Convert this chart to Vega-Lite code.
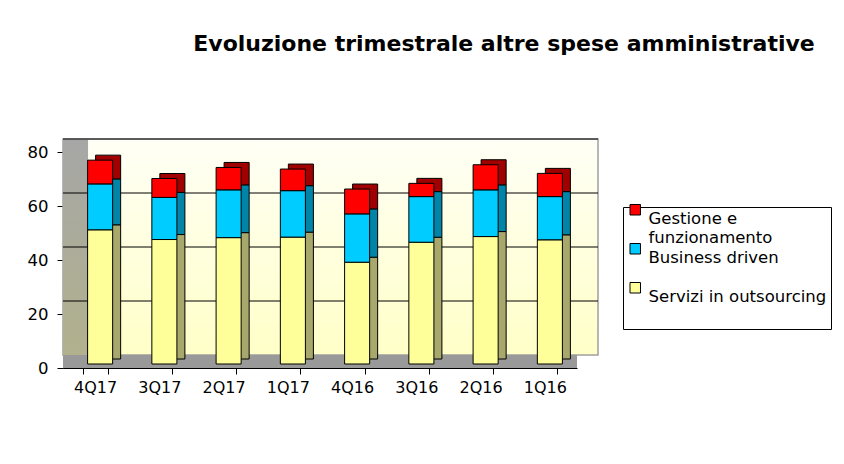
{
  "$schema": "https://vega.github.io/schema/vega-lite/v6.json",
  "width": 514,
  "height": 216,
  "autosize": {"type": "none"},
  "padding": {"left": 63, "top": 152, "right": 267, "bottom": 96},
  "background": "white",
  "config": {"view": {"stroke": null}, "font": "DejaVu Sans", "style": {"guide-label": {"lineHeight": 19}}},
  "title": {
    "text": "Evoluzione trimestrale altre spese amministrative",
    "font": "DejaVu Sans",
    "fontSize": 22,
    "fontWeight": "bold",
    "color": "black",
    "anchor": "middle",
    "frame": "group",
    "dx": 184,
    "offset": 82
  },
  "datasets": {
    "spese": [
      {"trimestre": "4Q17", "voce": "Servizi in outsourcing", "ord": 1, "valore": 49.7},
      {"trimestre": "4Q17", "voce": "Business driven", "ord": 2, "valore": 17.0},
      {"trimestre": "4Q17", "voce": "Gestione e funzionamento", "ord": 3, "valore": 8.8},
      {"trimestre": "3Q17", "voce": "Servizi in outsourcing", "ord": 1, "valore": 46.1},
      {"trimestre": "3Q17", "voce": "Business driven", "ord": 2, "valore": 15.6},
      {"trimestre": "3Q17", "voce": "Gestione e funzionamento", "ord": 3, "valore": 7.0},
      {"trimestre": "2Q17", "voce": "Servizi in outsourcing", "ord": 1, "valore": 46.8},
      {"trimestre": "2Q17", "voce": "Business driven", "ord": 2, "valore": 17.7},
      {"trimestre": "2Q17", "voce": "Gestione e funzionamento", "ord": 3, "valore": 8.3},
      {"trimestre": "1Q17", "voce": "Servizi in outsourcing", "ord": 1, "valore": 47.0},
      {"trimestre": "1Q17", "voce": "Business driven", "ord": 2, "valore": 17.2},
      {"trimestre": "1Q17", "voce": "Gestione e funzionamento", "ord": 3, "valore": 8.0},
      {"trimestre": "4Q16", "voce": "Servizi in outsourcing", "ord": 1, "valore": 37.7},
      {"trimestre": "4Q16", "voce": "Business driven", "ord": 2, "valore": 17.9},
      {"trimestre": "4Q16", "voce": "Gestione e funzionamento", "ord": 3, "valore": 9.2},
      {"trimestre": "3Q16", "voce": "Servizi in outsourcing", "ord": 1, "valore": 45.1},
      {"trimestre": "3Q16", "voce": "Business driven", "ord": 2, "valore": 16.9},
      {"trimestre": "3Q16", "voce": "Gestione e funzionamento", "ord": 3, "valore": 4.9},
      {"trimestre": "2Q16", "voce": "Servizi in outsourcing", "ord": 1, "valore": 47.2},
      {"trimestre": "2Q16", "voce": "Business driven", "ord": 2, "valore": 17.3},
      {"trimestre": "2Q16", "voce": "Gestione e funzionamento", "ord": 3, "valore": 9.3},
      {"trimestre": "1Q16", "voce": "Servizi in outsourcing", "ord": 1, "valore": 46.0},
      {"trimestre": "1Q16", "voce": "Business driven", "ord": 2, "valore": 16.0},
      {"trimestre": "1Q16", "voce": "Gestione e funzionamento", "ord": 3, "valore": 8.6}
    ],
    "parete": [{"trimestre": "4Q17", "lo": 0, "hi": 80}],
    "griglia": [{"v": 20}, {"v": 40}, {"v": 60}, {"v": 80}]
  },
  "layer": [
    {
      "data": {"name": "parete"},
      "mark": {
        "type": "rect",
        "color": {"gradient": "linear", "x1": 0, "y1": 0, "x2": 0, "y2": 1,
          "stops": [{"offset": 0, "color": "#FFFFF6"}, {"offset": 1, "color": "#FFFFC8"}]},
        "stroke": "#A0A0A0",
        "strokeWidth": 1.5,
        "yOffset": -13, "y2Offset": -13, "xOffset": 21
      },
      "encoding": {
        "y": {"field": "lo", "type": "quantitative", "title": null,
          "scale": {"domain": [0, 80], "nice": false},
          "axis": {"values": [0, 20, 40, 60, 80], "grid": false, "labelFont": "DejaVu Sans", "labelFontSize": 16.5,
            "labelColor": "black", "domainColor": "black", "tickColor": "black", "tickSize": 6, "labelPadding": 9}},
        "y2": {"field": "hi"}
      }
    },
    {
      "data": {"name": "parete"},
      "mark": {
        "type": "bar",
        "color": {"gradient": "linear", "x1": 0, "y1": 0, "x2": 0, "y2": 1,
          "stops": [{"offset": 0, "color": "#A6A6A6"}, {"offset": 1, "color": "#B2B28C"}]},
        "yOffset": -13, "y2Offset": 0, "xOffset": -19.6, "x2Offset": -19.6
      },
      "encoding": {
        "x": {"field": "trimestre", "type": "nominal", "sort": null, "title": null,
          "scale": {"paddingInner": 0.61, "paddingOuter": 0.305},
          "axis": {"labelAngle": 0, "labelFont": "DejaVu Sans", "labelFontSize": 16, "labelColor": "black",
            "domainColor": "black", "tickColor": "black", "tickSize": 6, "tickBand": "extent", "labelPadding": 5}},
        "y": {"field": "hi", "type": "quantitative", "title": null},
        "y2": {"field": "lo"}
      }
    },
    {
      "data": {"name": "griglia"},
      "mark": {"type": "rule", "color": "black", "strokeWidth": 1, "yOffset": -13, "xOffset": 21},
      "encoding": {"y": {"field": "v", "type": "quantitative", "title": null}}
    },
    {
      "data": {"name": "parete"},
      "mark": {"type": "rect", "color": "#999999", "yOffset": -13, "y2Offset": 0, "xOffset": 0},
      "encoding": {
        "y": {"field": "lo", "type": "quantitative", "title": null},
        "y2": {"field": "lo"}
      }
    },
    {
      "data": {"name": "spese"},
      "mark": {"type": "bar", "stroke": "black", "strokeWidth": 1, "xOffset": 13, "x2Offset": 13, "yOffset": -9, "y2Offset": -9},
      "encoding": {
        "x": {"field": "trimestre", "type": "nominal", "sort": null, "title": null},
        "y": {"field": "valore", "type": "quantitative", "stack": "zero", "title": null},
        "order": {"field": "ord", "sort": "ascending"},
        "color": {"field": "voce", "type": "nominal", "legend": null,
          "scale": {"domain": ["Gestione e funzionamento", "Business driven", "Servizi in outsourcing"],
            "range": ["#A00000", "#0085A8", "#A8A86C"]}}
      }
    },
    {
      "data": {"name": "spese"},
      "mark": {"type": "bar", "stroke": "black", "strokeWidth": 1, "xOffset": 5, "x2Offset": 5, "yOffset": -4, "y2Offset": -4},
      "encoding": {
        "x": {"field": "trimestre", "type": "nominal", "sort": null, "title": null},
        "y": {"field": "valore", "type": "quantitative", "stack": "zero", "title": null},
        "order": {"field": "ord", "sort": "ascending"},
        "color": {"field": "voce", "type": "nominal",
          "scale": {"domain": ["Gestione e funzionamento", "Business driven", "Servizi in outsourcing"],
            "range": ["#FF0000", "#00CCFF", "#FFFF99"]},
          "legend": {"orient": "none", "legendX": 560, "legendY": 55, "title": null,
            "symbolType": "M-1,-2.81H1V-0.81H-1Z", "symbolSize": 110, "symbolStrokeColor": "black", "symbolStrokeWidth": 1,
            "labelFont": "DejaVu Sans", "labelFontSize": 16.5, "labelColor": "black", "labelLimit": 400,
            "labelBaseline": "middle", "labelOffset": 5,
            "labelExpr": "datum.label == 'Gestione e funzionamento' ? ['Gestione e', 'funzionamento'] : [datum.label, '']",
            "strokeColor": "black", "fillColor": "white", "padding": 4, "rowPadding": -6}
        }
      }
    }
  ],
  "resolve": {"scale": {"color": "independent"}}
}
